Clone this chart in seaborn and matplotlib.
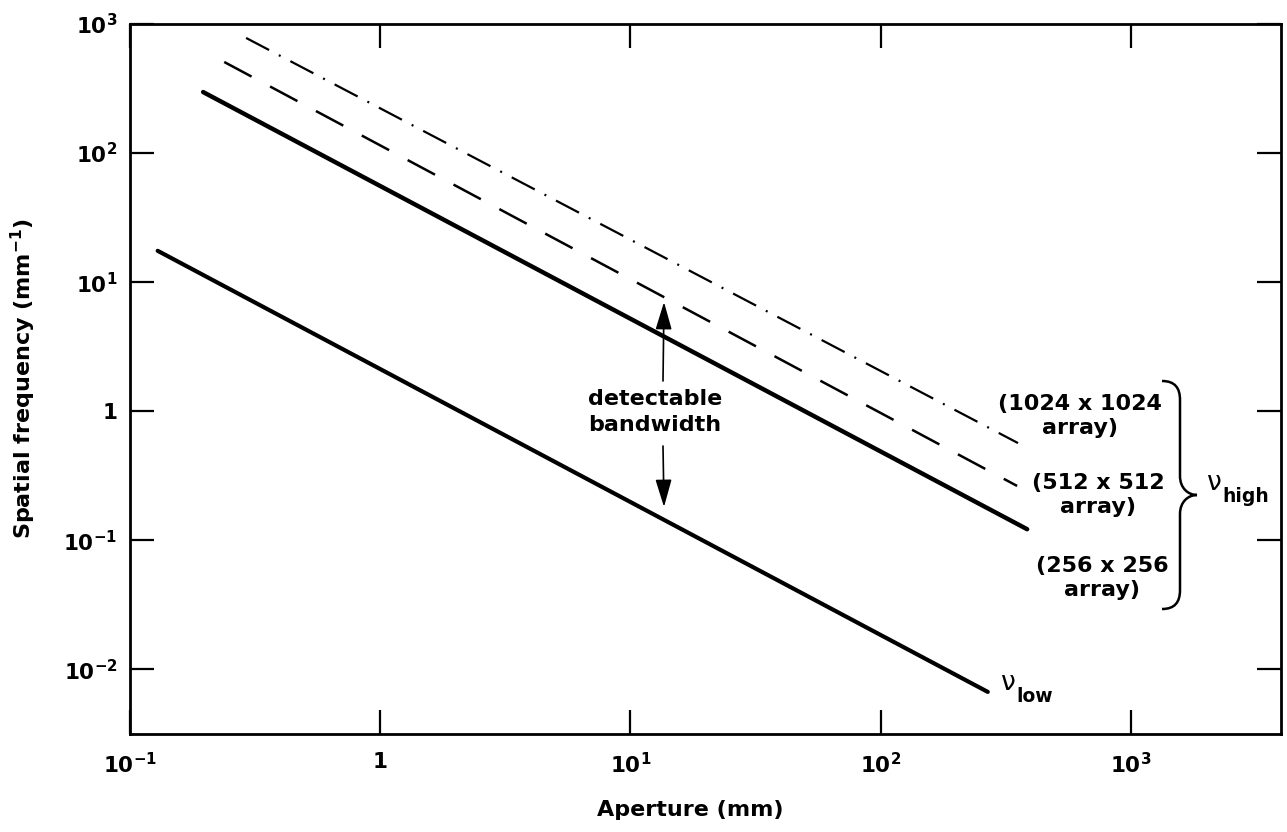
import matplotlib
matplotlib.use("Agg")
import numpy as np
import pandas as pd
import matplotlib.pyplot as plt
import seaborn as sns
from matplotlib.path import Path
from matplotlib.patches import PathPatch

# ---------------- data ----------------
aperture_low = [0.129, 268.0]
freq_low = [17.5, 0.0067]

aperture_256 = [0.196, 385.0]
freq_256 = [297.0, 0.122]

aperture_512 = [0.238, 351.0]
freq_512 = [508.0, 0.264]

aperture_1024 = [0.291, 354.0]
freq_1024 = [780.0, 0.567]

x_ticks = [0.1, 1, 10, 100, 1000]
x_tick_labels = [r"$10^{-1}$", "1", r"$10^{1}$", r"$10^{2}$", r"$10^{3}$"]
y_ticks = [0.01, 0.1, 1, 10, 100, 1000]
y_tick_labels = [r"$10^{-2}$", r"$10^{-1}$", "1", r"$10^{1}$", r"$10^{2}$", r"$10^{3}$"]

array_labels = ["(1024 x 1024\narray)", "(512 x 512\narray)", "(256 x 256\narray)"]

# ---------------- style ----------------
sns.set_theme(style="ticks")
plt.rcParams["font.family"] = ["DejaVu Sans"]
plt.rcParams["font.weight"] = "bold"
plt.rcParams["mathtext.fontset"] = "dejavusans"
plt.rcParams["mathtext.default"] = "bf"
plt.rcParams["axes.linewidth"] = 2.0

W, H = 1287, 832
fig = plt.figure(figsize=(W / 100, H / 100), dpi=100)
AX_L, AX_R, AX_T, AX_B = 130, 1281, 24, 734
ax = fig.add_axes([AX_L / W, (H - AX_B) / H, (AX_R - AX_L) / W, (AX_B - AX_T) / H])
ax.set_xscale("log")
ax.set_yscale("log")


def pa(px, py):
    """pixel position -> axes fraction"""
    return ((px - AX_L) / (AX_R - AX_L), (AX_B - py) / (AX_B - AX_T))


def df(x, y):
    return pd.DataFrame({"Aperture": x, "Freq": y})


sns.lineplot(data=df(aperture_low, freq_low), x="Aperture", y="Freq", ax=ax,
             color="black", lw=3.0, estimator=None, sort=False)
sns.lineplot(data=df(aperture_256, freq_256), x="Aperture", y="Freq", ax=ax,
             color="black", lw=3.2, estimator=None, sort=False)
sns.lineplot(data=df(aperture_512, freq_512), x="Aperture", y="Freq", ax=ax,
             color="black", lw=1.8, estimator=None, sort=False,
             linestyle=(0, (12.4, 8.4)))
sns.lineplot(data=df(aperture_1024, freq_1024), x="Aperture", y="Freq", ax=ax,
             color="black", lw=1.6, estimator=None, sort=False,
             linestyle=(0, (11.7, 4.95, 0.9, 4.95)))

ax.set_xlim(0.1, 10 ** 3.6)
ax.set_ylim(10 ** -2.5, 1000)
ax.minorticks_off()
ax.set_xticks(x_ticks)
ax.set_xticklabels(x_tick_labels)
ax.set_yticks(y_ticks)
ax.set_yticklabels(y_tick_labels)
ax.tick_params(axis="both", which="major", direction="in", length=17, width=1.6,
               top=True, right=True, labelsize=15.5, colors="black")
ax.tick_params(axis="x", pad=13)
ax.tick_params(axis="y", pad=9)
for s in ax.spines.values():
    s.set_color("black")
    s.set_linewidth(2.0)

ax.set_xlabel("Aperture (mm)", fontsize=16, fontweight="bold", color="black")
ax.set_ylabel(r"Spatial frequency (mm$^{-1}$)", fontsize=16, fontweight="bold", color="black")
ax.xaxis.set_label_coords(*pa(690, 800))
ax.yaxis.set_label_coords(*pa(38, 379))

# detectable bandwidth annotation
ax.text(*pa(655, 412), "detectable\nbandwidth", transform=ax.transAxes, ha="center",
        va="center", fontsize=16, fontweight="bold", linespacing=1.35, color="black")
arrow_kw = dict(arrowstyle="-|>,head_length=0.85,head_width=0.25", color="black",
                lw=1.2, shrinkA=0, shrinkB=0, mutation_scale=20)
ax.annotate("", xy=pa(664, 302), xytext=pa(663, 381), xycoords="axes fraction",
            textcoords="axes fraction", arrowprops=arrow_kw)
ax.annotate("", xy=pa(664, 507), xytext=pa(663, 446), xycoords="axes fraction",
            textcoords="axes fraction", arrowprops=arrow_kw)

# array labels
for lab, (px, py) in zip(array_labels, [(1080, 416), (1098, 495), (1102, 578)]):
    ax.text(*pa(px, py), lab, transform=ax.transAxes, ha="center", va="center",
            multialignment="center", fontsize=16, fontweight="bold",
            linespacing=1.2, color="black")

# brace
brace_px = [(1162, 381), (1175, 381), (1180, 388), (1180, 400),
            (1180, 476),
            (1180, 488), (1188, 495), (1197, 495),
            (1188, 495), (1180, 502), (1180, 514),
            (1180, 590),
            (1180, 602), (1175, 609), (1162, 609)]
codes = [Path.MOVETO, Path.CURVE4, Path.CURVE4, Path.CURVE4,
         Path.LINETO,
         Path.CURVE4, Path.CURVE4, Path.CURVE4,
         Path.CURVE4, Path.CURVE4, Path.CURVE4,
         Path.LINETO,
         Path.CURVE4, Path.CURVE4, Path.CURVE4]
brace = PathPatch(Path([pa(*p) for p in brace_px], codes), transform=ax.transAxes,
                  fill=False, lw=1.8, edgecolor="black", clip_on=False)
ax.add_patch(brace)

# nu labels
ax.text(*pa(1222, 483), "ν", transform=ax.transAxes, ha="right", va="center",
        fontsize=19, fontweight="normal", color="black")
ax.text(*pa(1222, 497), "high", transform=ax.transAxes, ha="left", va="center",
        fontsize=13.5, fontweight="bold", color="black")
ax.text(*pa(1016, 683), "ν", transform=ax.transAxes, ha="right", va="center",
        fontsize=19, fontweight="normal", color="black")
ax.text(*pa(1016, 697), "low", transform=ax.transAxes, ha="left", va="center",
        fontsize=13.5, fontweight="bold", color="black")

fig.savefig("out.png", dpi=100, facecolor="white")
